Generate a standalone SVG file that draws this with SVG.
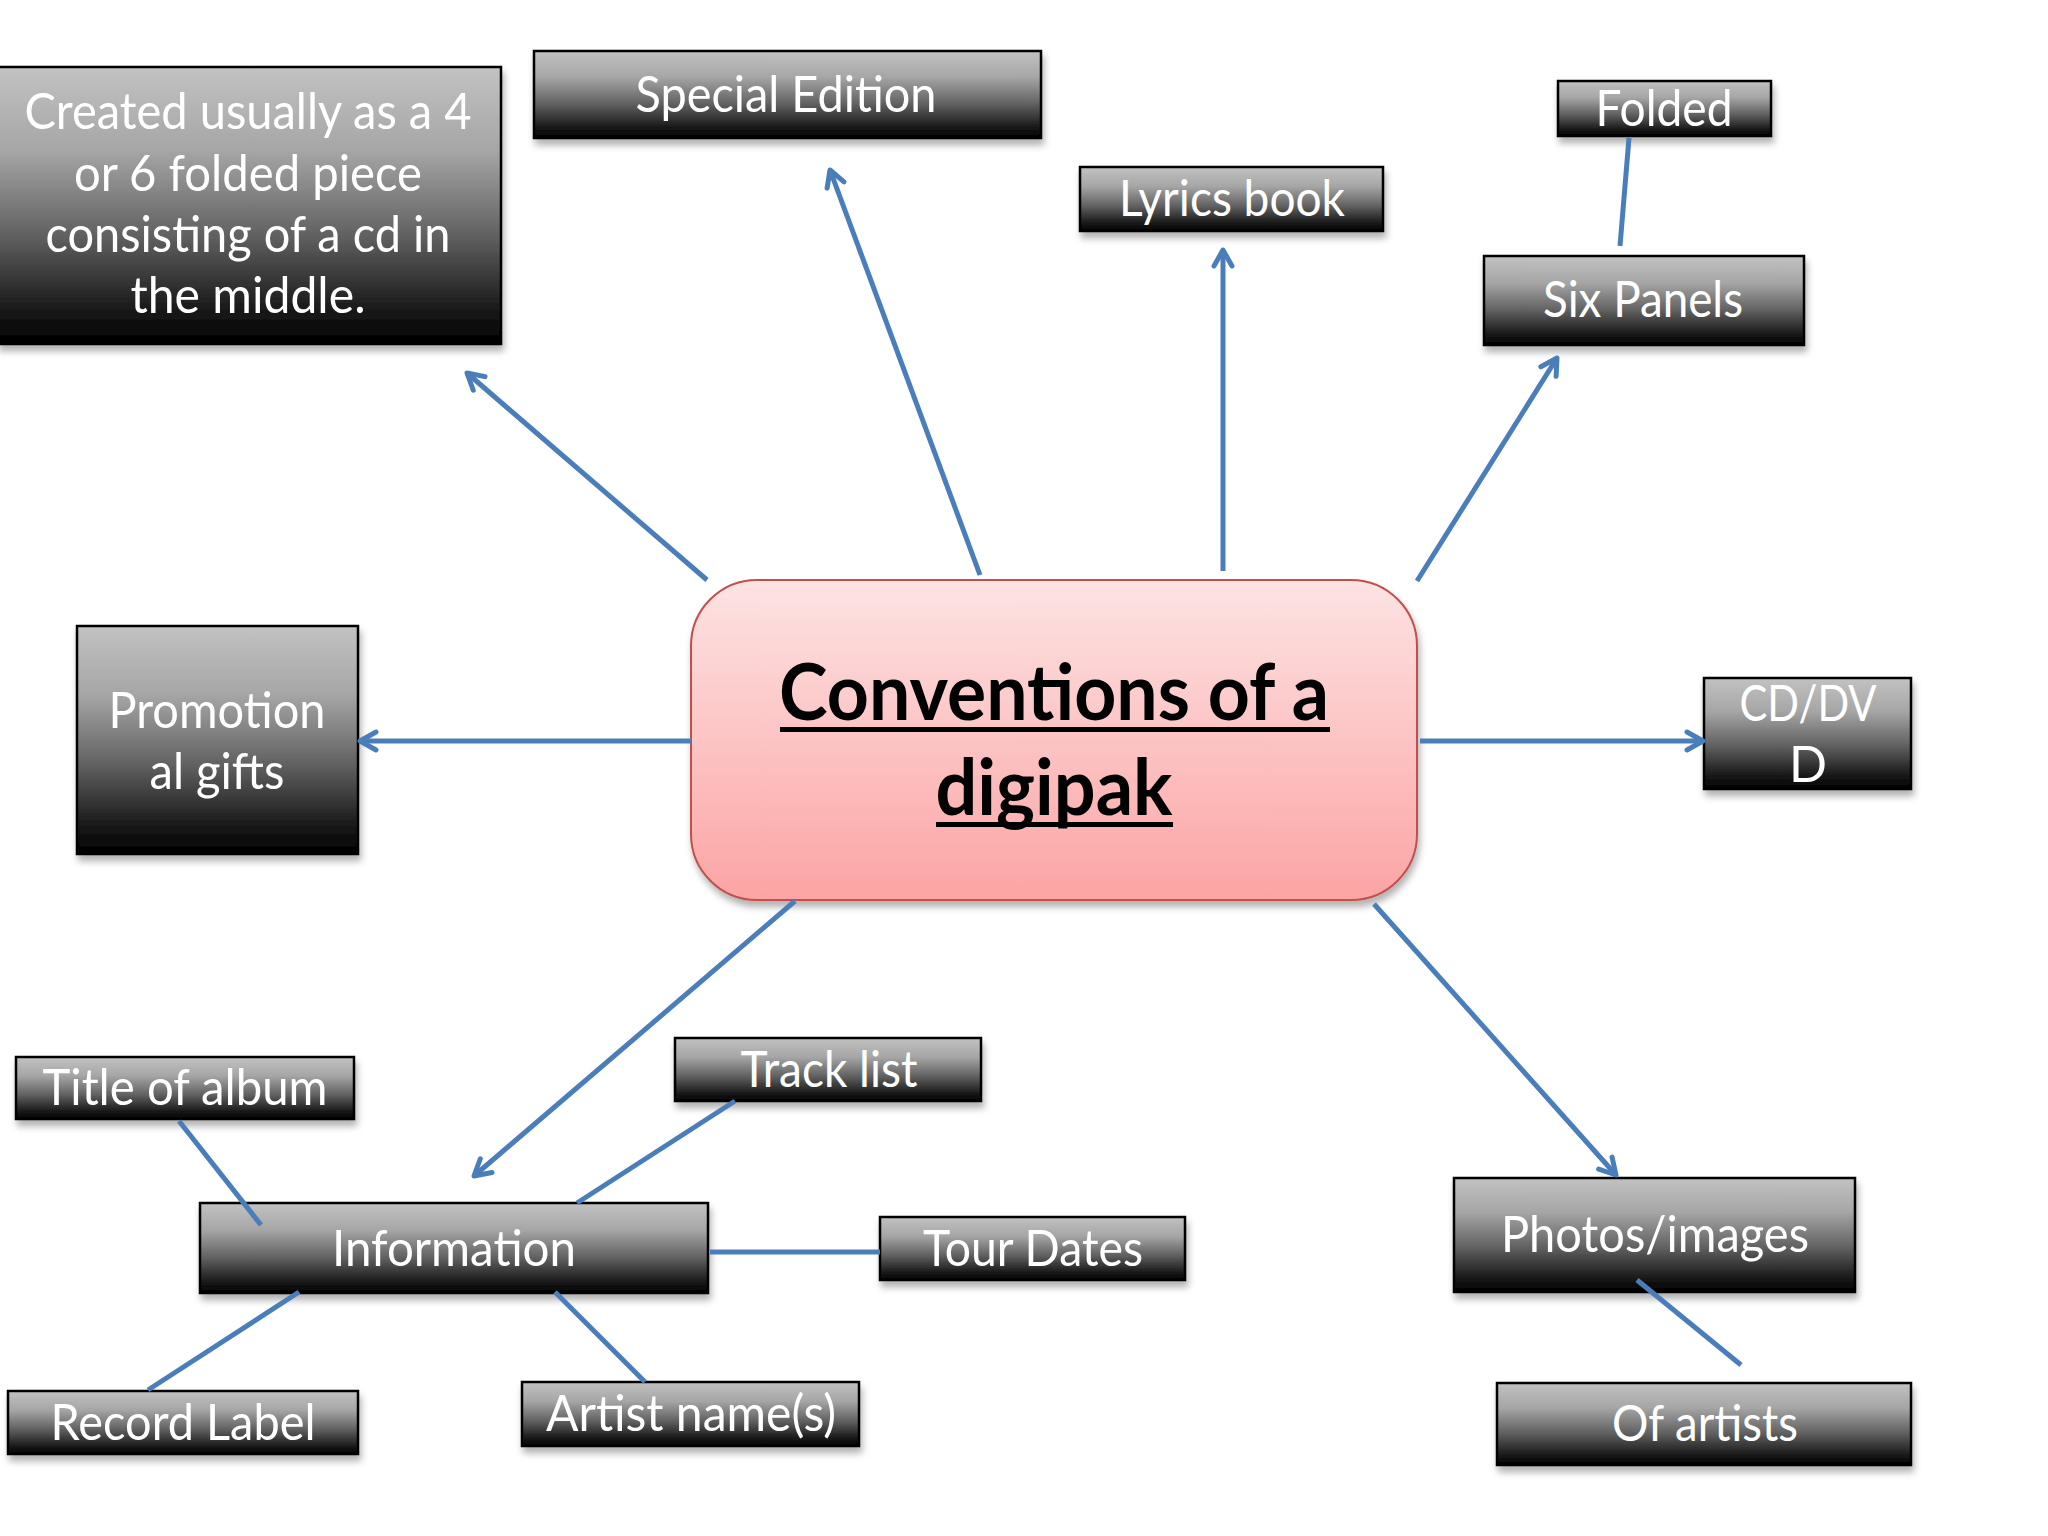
<svg xmlns="http://www.w3.org/2000/svg" width="2048" height="1536" viewBox="0 0 2048 1536">
<defs>
<linearGradient id="gBox" x1="0" y1="0" x2="0" y2="1">
<stop offset="0" stop-color="#c2c2c2"/>
<stop offset="0.3" stop-color="#a6a6a6"/>
<stop offset="0.6" stop-color="#636363"/>
<stop offset="0.88" stop-color="#181818"/>
<stop offset="1" stop-color="#000"/>
</linearGradient>
<linearGradient id="gCenter" x1="0" y1="0" x2="0" y2="1">
<stop offset="0" stop-color="#fde3e3"/>
<stop offset="1" stop-color="#fca4a4"/>
</linearGradient>
<filter id="shadow" x="-10%" y="-10%" width="125%" height="140%">
<feDropShadow dx="2" dy="6" stdDeviation="3.5" flood-color="#000" flood-opacity="0.3"/>
</filter>
<marker id="arrow" viewBox="0 0 24 24" markerWidth="24" markerHeight="24" refX="20" refY="12" orient="auto" markerUnits="userSpaceOnUse">
<path d="M4,3 L20,12 L4,21" fill="none" stroke="#4a7ebb" stroke-width="5" stroke-linecap="round" stroke-linejoin="round"/>
</marker>
</defs>
<style>
.box{fill:url(#gBox);stroke:#000;stroke-width:2.5;filter:url(#shadow)}
.t{font-family:Lato,"Open Sans","DejaVu Sans",sans-serif;font-size:50px;fill:#fff;text-anchor:middle}
.title{font-family:Lato,"Open Sans","DejaVu Sans",sans-serif;font-size:78px;font-weight:bold;fill:#000;text-anchor:middle}
.c{stroke:#4a7ebb;stroke-width:5;fill:none}
.a{marker-end:url(#arrow)}
</style>
<rect width="2048" height="1536" fill="#fff"/>

<g id="n-center">
<rect x="691" y="580" width="726" height="320" rx="66" ry="66" fill="url(#gCenter)" stroke="#c0504d" stroke-width="2" filter="url(#shadow)"/>
<text class="title" x="1054" y="720" textLength="550" lengthAdjust="spacingAndGlyphs">Conventions of a</text>
<rect x="780" y="727" width="550" height="5" fill="#000"/>
<text class="title" x="1054" y="815" textLength="237" lengthAdjust="spacingAndGlyphs">digipak</text>
<rect x="936" y="822" width="237" height="5" fill="#000"/>
</g>

<g id="n-created">
<rect class="box" x="-2" y="67" width="503" height="277"/>
<text class="t" x="248" y="129" textLength="447" lengthAdjust="spacingAndGlyphs">Created usually as a 4</text>
<text class="t" x="248" y="191" textLength="348" lengthAdjust="spacingAndGlyphs">or 6 folded piece</text>
<text class="t" x="248" y="252" textLength="405" lengthAdjust="spacingAndGlyphs">consisting of a cd in</text>
<text class="t" x="248" y="313" textLength="235" lengthAdjust="spacingAndGlyphs">the middle.</text>
</g>

<g id="n-special">
<rect class="box" x="534" y="51" width="507" height="87"/>
<text class="t" x="786" y="112" textLength="301" lengthAdjust="spacingAndGlyphs">Special Edition</text>
</g>

<g id="n-lyrics">
<rect class="box" x="1080" y="167" width="303" height="64"/>
<text class="t" x="1232" y="216" textLength="226" lengthAdjust="spacingAndGlyphs">Lyrics book</text>
</g>

<g id="n-folded">
<rect class="box" x="1558" y="81" width="213" height="55"/>
<text class="t" x="1664" y="126" textLength="137" lengthAdjust="spacingAndGlyphs">Folded</text>
</g>

<g id="n-six">
<rect class="box" x="1484" y="256" width="320" height="89"/>
<text class="t" x="1643" y="317" textLength="200" lengthAdjust="spacingAndGlyphs">Six Panels</text>
</g>

<g id="n-promo">
<rect class="box" x="77" y="626" width="281" height="228"/>
<text class="t" x="217" y="728" textLength="217" lengthAdjust="spacingAndGlyphs">Promotion</text>
<text class="t" x="217" y="789" textLength="135" lengthAdjust="spacingAndGlyphs">al gifts</text>
</g>

<g id="n-cddvd">
<rect class="box" x="1704" y="678" width="207" height="111"/>
<text class="t" x="1808" y="721" textLength="137" lengthAdjust="spacingAndGlyphs">CD/DV</text>
<text class="t" x="1808" y="782">D</text>
</g>

<g id="n-title">
<rect class="box" x="16" y="1057" width="338" height="62"/>
<text class="t" x="185" y="1105" textLength="285" lengthAdjust="spacingAndGlyphs">Title of album</text>
</g>

<g id="n-track">
<rect class="box" x="675" y="1038" width="306" height="63"/>
<text class="t" x="829" y="1087" textLength="177" lengthAdjust="spacingAndGlyphs">Track list</text>
</g>

<g id="n-info">
<rect class="box" x="200" y="1203" width="508" height="90"/>
<text class="t" x="454" y="1266" textLength="244" lengthAdjust="spacingAndGlyphs">Information</text>
</g>

<g id="n-tour">
<rect class="box" x="880" y="1217" width="305" height="63"/>
<text class="t" x="1033" y="1266" textLength="220" lengthAdjust="spacingAndGlyphs">Tour Dates</text>
</g>

<g id="n-record">
<rect class="box" x="8" y="1391" width="350" height="63"/>
<text class="t" x="183" y="1440" textLength="265" lengthAdjust="spacingAndGlyphs">Record Label</text>
</g>

<g id="n-artist">
<rect class="box" x="522" y="1382" width="337" height="64"/>
<text class="t" x="691" y="1431" textLength="290" lengthAdjust="spacingAndGlyphs">Artist name(s)</text>
</g>

<g id="n-photos">
<rect class="box" x="1454" y="1178" width="401" height="114"/>
<text class="t" x="1655" y="1252" textLength="308" lengthAdjust="spacingAndGlyphs">Photos/images</text>
</g>

<g id="n-ofartists">
<rect class="box" x="1497" y="1383" width="414" height="82"/>
<text class="t" x="1705" y="1441" textLength="186" lengthAdjust="spacingAndGlyphs">Of artists</text>
</g>

<g id="connectors">
<line class="c a" x1="707" y1="580" x2="467" y2="373"/>
<line class="c a" x1="980" y1="575" x2="830" y2="170"/>
<line class="c a" x1="1223" y1="571" x2="1223" y2="250"/>
<line class="c a" x1="1417" y1="581" x2="1557" y2="358"/>
<line class="c a" x1="1420" y1="741" x2="1703" y2="741"/>
<line class="c a" x1="691" y1="741" x2="360" y2="741"/>
<line class="c a" x1="795" y1="901" x2="474" y2="1176"/>
<line class="c a" x1="1374" y1="904" x2="1616" y2="1175"/>
<line class="c" x1="1629" y1="138" x2="1620" y2="246"/>
<line class="c" x1="179" y1="1121" x2="261" y2="1225"/>
<line class="c" x1="735" y1="1101" x2="577" y2="1203"/>
<line class="c" x1="710" y1="1252" x2="880" y2="1252" stroke-width="7"/>
<line class="c" x1="299" y1="1292" x2="148" y2="1390"/>
<line class="c" x1="555" y1="1292" x2="645" y2="1382"/>
<line class="c" x1="1637" y1="1280" x2="1741" y2="1365"/>
</g>
</svg>
